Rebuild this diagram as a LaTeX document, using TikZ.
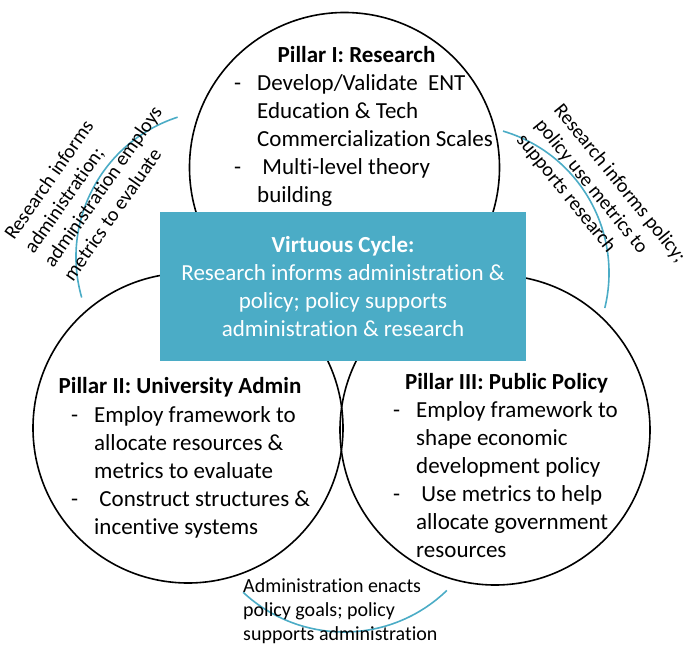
\documentclass[tikz,border=0pt]{standalone}
\usepackage{fontspec}
\setmainfont{Carlito}[Ligatures=NoCommon]
\definecolor{cycleblue}{HTML}{4BACC6}
\tikzset{
  pillar/.style={circle,draw=black,line width=1.6pt,minimum size=310pt,inner sep=0pt},
  pillartitle/.style={inner sep=0pt,anchor=base,font=\fontsize{23}{28}\selectfont\bfseries},
  pillarlist/.style={inner sep=0pt,anchor=base west,font=\fontsize{23}{28}\selectfont},
  link/.style={draw=cycleblue,line width=1.6pt},
  linktext/.style={inner sep=0pt,anchor=base west,font=\fontsize{20}{24}\selectfont},
}
\newcommand*{\hy}{\makebox[23pt][l]{-}}

\begin{document}
\begin{tikzpicture}[x=1pt,y=1pt]
\useasboundingbox (0,0) rectangle (688,-647);
% the three pillars
\node[pillar] (research) at (344.5,-167.5) {};
\node[pillar] (admin) at (188,-428) {};
\node[pillar] (policy) at (495,-430) {};
% arcs between the pillars
\coordinate (ra) at (223,-257);
\coordinate (rp) at (461,-273);
\coordinate (ap) at (344,-484);
\draw[link] (ra) ++(108:147) arc[start angle=108,end angle=196,radius=147];
\draw[link] (rp) ++(73.5:148) arc[start angle=73.5,end angle=-13.7,radius=148];
\draw[link] (ap) ++(227:148) arc[start angle=227,end angle=314,radius=148];
% centre box
\node[fill=cycleblue,text=white,minimum width=366pt,minimum height=149pt,
  inner sep=0pt,align=center,font=\fontsize{23}{28}\selectfont] (cycle) at (343,-286.5)
  {\textbf{Virtuous Cycle:}\\Research informs administration \&\\policy; policy supports\\administration \& research};
% pillar texts
\node[pillartitle] (t1) at (356.5,-63) {Pillar I: Research};
\node[pillarlist] (l1) at (234,-91) {\begin{tabular}[t]{@{}l@{}l@{}}
  \hy & Develop/Validate\ \ ENT\\
      & Education \& Tech\\
      & Commercialization Scales\\
  \hy & \ Multi-level theory\\
      & building
  \end{tabular}};
\node[pillartitle] (t2) at (180,-393) {Pillar II: University Admin};
\node[pillarlist] (l2) at (71,-422) {\begin{tabular}[t]{@{}l@{}l@{}}
  \hy & Employ framework to\\
      & allocate resources \&\\
      & metrics to evaluate\\
  \hy & \ Construct structures \&\\
      & incentive systems
  \end{tabular}};
\node[pillartitle] (t3) at (506.5,-389) {Pillar III: Public Policy};
\node[pillarlist] (l3) at (393,-417) {\begin{tabular}[t]{@{}l@{}l@{}}
  \hy & Employ framework to\\
      & shape economic\\
      & development policy\\
  \hy & \ Use metrics to help\\
      & allocate government\\
      & resources
  \end{tabular}};
% arc labels
\node[linktext,rotate=55] (lra) at (14,-241) {\begin{tabular}[t]{@{}l@{}}
  Research informs\\administration;\\administration employs\\metrics to evaluate\end{tabular}};
\node[linktext,rotate=-51] (lrp) at (553,-110) {\begin{tabular}[t]{@{}l@{}}
  Research informs policy;\\policy use metrics to\\supports research\end{tabular}};
\node[linktext] (lap) at (243,-592) {\begin{tabular}[t]{@{}l@{}}
  Administration enacts\\policy goals; policy\\supports administration\end{tabular}};
\end{tikzpicture}
\end{document}
